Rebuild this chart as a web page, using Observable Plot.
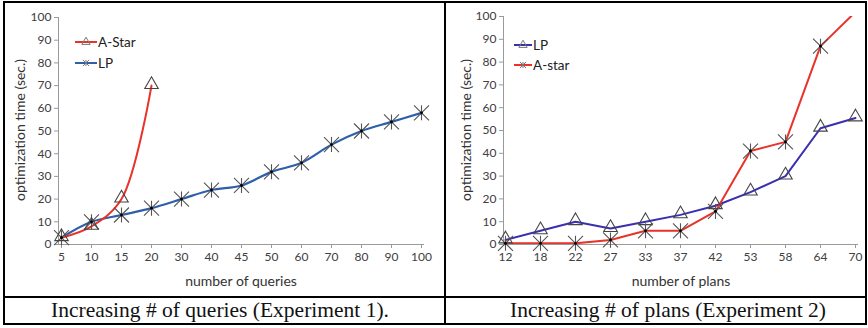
<!DOCTYPE html>
<html>
<head>
<meta charset="utf-8">
<script src="https://cdn.jsdelivr.net/npm/d3@7"></script>
<script src="https://cdn.jsdelivr.net/npm/@observablehq/plot@0.6"></script>
<style>
  html, body { margin: 0; padding: 0; background: #fff; }
  #wrap { position: relative; width: 868px; height: 328px; overflow: hidden; font-family: Lato, "Open Sans", sans-serif; }
  .box { position: absolute; background: #000; }
  .cap { position: absolute; font-family: "Liberation Serif", "Times New Roman", serif; font-size: 21.5px; line-height: 24px; color: #111; white-space: nowrap; transform: translateX(-50%); }
  .panel { position: absolute; top: 0; }
  .xt { position: absolute; font-family: Lato, sans-serif; font-size: 14px; line-height: 16px; color: #333; white-space: nowrap; transform: translate(-50%, -50%); }
  .yt { position: absolute; font-family: Lato, sans-serif; font-size: 14px; line-height: 16px; color: #333; white-space: nowrap; transform: translate(-50%, -50%) rotate(-90deg); }
</style>
</head>
<body>
<div id="wrap"></div>
<script>
// ---------- data ----------
const queries = ["5","10","15","20","30","40","45","50","60","70","80","90","100"];
const exp1AStar = [3, 8, 20, 70];                 // first four query counts
const exp1LP = [3, 10, 13, 16, 20, 24, 26, 32, 36, 44, 50, 54, 58];

const plans = ["12","18","22","27","33","37","42","53","58","64","70"];
const exp2LP = [2, 6, 10, 7, 10, 13, 17, 23, 30, 51, 55.5];
const exp2AStar = [0.5, 0.5, 0.5, 2, 6, 6, 14.5, 41, 45, 87, 102];

const yTicks = [0,10,20,30,40,50,60,70,80,90,100];
const captions = ["Increasing # of queries (Experiment 1).", "Increasing # of plans (Experiment 2)"];
const yTitle = "optimization time (sec.)";
const xTitles = ["number of queries", "number of plans"];

// ---------- styles ----------
const RED = "#e8322a";
const BLUE1 = "#2f5fa8";
const BLUE2 = "#3a2fae";
const AXIS = "#9a9a9a";
const TXT = "#404040";

// custom Excel-like star marker: X plus vertical bar
const starSymbol = {
  draw(ctx, size) {
    const r = Math.sqrt(size / Math.PI);
    ctx.moveTo(-r, -r); ctx.lineTo(r, r);
    ctx.moveTo(-r, r); ctx.lineTo(r, -r);
    ctx.moveTo(0, -r); ctx.lineTo(0, r);
  }
};

const wrap = document.getElementById("wrap");

function mkSeries(cats, vals, name) {
  return vals.map((v, i) => ({cat: cats[i], v, name}));
}

function axes(cats) {
  return [
    Plot.frame({anchor: "left", stroke: AXIS}),
    Plot.frame({anchor: "bottom", stroke: AXIS}),
    Plot.axisY(yTicks, {tickSize: 4, stroke: AXIS, tickPadding: 3, fill: TXT, fontSize: 12, label: null}),
    Plot.axisX(cats, {tickSize: 4, stroke: AXIS, tickPadding: 4, fill: TXT, fontSize: 12, label: null})
  ];
}

function starMarks(data, filter) {
  const d = filter ? data.filter(filter) : data;
  return [
    Plot.dot(d, {x: "cat", y: "v", symbol: starSymbol, r: 7.5, stroke: "#555", strokeWidth: 1.1, fill: "none"}),
    Plot.dot(d, {x: "cat", y: "v", r: 1.4, fill: "#000", stroke: "none"})
  ];
}
function triMarks(data) {
  return [
    Plot.dot(data, {x: "cat", y: "v", symbol: "triangle", r: 5, stroke: "#444", strokeWidth: 1.1, fill: "none", dy: -1})
  ];
}

// ---------- left panel ----------
const l1 = mkSeries(queries, exp1AStar, "A-Star");
const l2 = mkSeries(queries, exp1LP, "LP");
const left = Plot.plot({
  width: 445, height: 297,
  marginLeft: 58, marginRight: 22, marginTop: 17, marginBottom: 53,
  style: {fontFamily: "Lato, 'Open Sans', sans-serif", fontSize: "12px", color: TXT, background: "transparent"},
  x: {type: "point", domain: queries, padding: 0},
  y: {domain: [0, 100]},
  marks: [
    ...axes(queries),
    Plot.line(l2, {x: "cat", y: "v", stroke: BLUE1, strokeWidth: 2.2, curve: "catmull-rom"}),
    Plot.line(l1, {x: "cat", y: "v", stroke: RED, strokeWidth: 2, curve: "catmull-rom"}),
    ...starMarks(l2),
    ...triMarks(l1)
  ]
});
const lp = document.createElement("div");
lp.className = "panel"; lp.style.left = "0px";
lp.appendChild(left);
wrap.appendChild(lp);

// ---------- right panel ----------
const r1 = mkSeries(plans, exp2LP, "LP");
const r2 = mkSeries(plans, exp2AStar, "A-star");
const right = Plot.plot({
  width: 423, height: 297,
  marginLeft: 58, marginRight: 11, marginTop: 16, marginBottom: 53,
  style: {fontFamily: "Lato, 'Open Sans', sans-serif", fontSize: "12px", color: TXT, background: "transparent"},
  x: {type: "point", domain: plans, padding: 0},
  y: {domain: [0, 100]},
  marks: [
    ...axes(plans),
    Plot.line(r1, {x: "cat", y: "v", stroke: BLUE2, strokeWidth: 2}),
    Plot.line(r2, {x: "cat", y: "v", stroke: RED, strokeWidth: 2, clip: true}),
    ...triMarks(r1),
    ...starMarks(r2, d => d.v <= 100)
  ]
});
const rp = document.createElement("div");
rp.className = "panel"; rp.style.left = "445px";
rp.appendChild(right);
wrap.appendChild(rp);

// ---------- axis titles ----------
function title(cls, text, x, y) {
  const d = document.createElement("div");
  d.className = cls; d.textContent = text;
  d.style.left = x + "px"; d.style.top = y + "px";
  wrap.appendChild(d);
}
title("yt", yTitle, 20, 130);
title("yt", yTitle, 466, 130);
title("xt", xTitles[0], 241, 281);
title("xt", xTitles[1], 681, 281);

// ---------- legends ----------
function legend(x, y, items) {
  const ns = "http://www.w3.org/2000/svg";
  const svg = document.createElementNS(ns, "svg");
  svg.setAttribute("width", 90); svg.setAttribute("height", 50);
  svg.style.position = "absolute"; svg.style.left = x + "px"; svg.style.top = y + "px";
  items.forEach((it, i) => {
    const cy = 8 + i * it.gap;
    const ln = document.createElementNS(ns, "line");
    ln.setAttribute("x1", 0); ln.setAttribute("x2", it.len); ln.setAttribute("y1", cy); ln.setAttribute("y2", cy);
    ln.setAttribute("stroke", it.color); ln.setAttribute("stroke-width", 2);
    svg.appendChild(ln);
    const p = document.createElementNS(ns, "path");
    const m = it.len / 2;
    if (it.marker === "tri") {
      p.setAttribute("d", d3.symbol(d3.symbolTriangle, 30)());
    } else {
      p.setAttribute("d", d3.symbol(starSymbol, 30)());
    }
    p.setAttribute("transform", `translate(${m},${cy})`);
    p.setAttribute("fill", "none"); p.setAttribute("stroke", "#777"); p.setAttribute("stroke-width", 1);
    svg.appendChild(p);
    const t = document.createElementNS(ns, "text");
    t.setAttribute("x", it.len + 1); t.setAttribute("y", cy); t.setAttribute("dy", "0.35em");
    t.setAttribute("font-family", "Lato, sans-serif"); t.setAttribute("font-size", "13.5");
    t.setAttribute("fill", "#222");
    t.textContent = it.name;
    svg.appendChild(t);
  });
  wrap.appendChild(svg);
}
legend(75, 34, [
  {name: "A-Star", color: RED, marker: "tri", len: 22, gap: 21},
  {name: "LP", color: BLUE1, marker: "star", len: 22, gap: 21}
]);
legend(514, 37, [
  {name: "LP", color: BLUE2, marker: "tri", len: 18, gap: 20},
  {name: "A-star", color: RED, marker: "star", len: 18, gap: 20}
]);

// ---------- borders & captions ----------
function box(l, t, w, h) {
  const d = document.createElement("div");
  d.className = "box";
  Object.assign(d.style, {left: l + "px", top: t + "px", width: w + "px", height: h + "px"});
  wrap.appendChild(d);
}
box(3, 1, 864, 2);      // top
box(3, 323, 864, 2);    // bottom
box(3, 1, 2, 324);      // left
box(865, 1, 2, 324);    // right
box(444, 1, 2, 324);    // middle
box(3, 296, 864, 2);    // caption separator

function cap(text, cx) {
  const d = document.createElement("div");
  d.className = "cap";
  d.style.left = cx + "px"; d.style.top = "298px";
  d.textContent = text;
  wrap.appendChild(d);
}
cap(captions[0], 220);
cap(captions[1], 668);
</script>
</body>
</html>
